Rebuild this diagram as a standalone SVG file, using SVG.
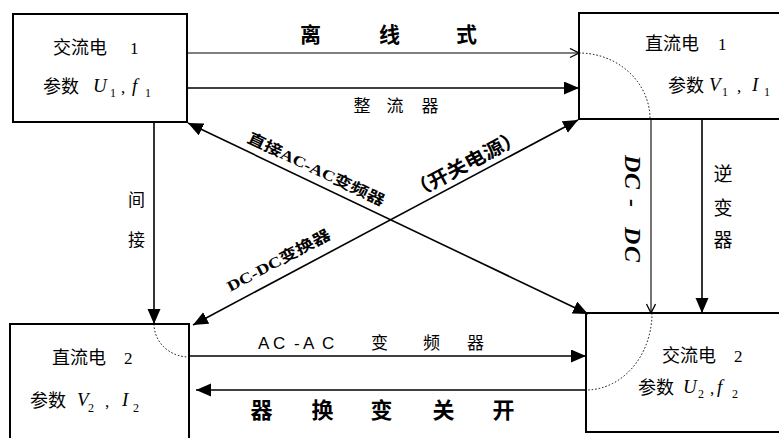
<svg xmlns="http://www.w3.org/2000/svg" width="779" height="438" viewBox="0 0 779 438">
<style>
.box{fill:#fff;stroke:#000;stroke-width:2}
.ln{stroke:#000;stroke-width:1.6;fill:none}
.thin{stroke:#000;stroke-width:1.1;fill:none}
.arc{stroke:#000;stroke-width:1;fill:none;stroke-dasharray:1.5 2}
.cjk{font-family:"Noto Sans CJK SC","Noto Sans",sans-serif;fill:#000}
.bt{font-size:18px}
.v{font-family:"Liberation Serif",serif;font-style:italic;font-size:19px}
.sub{font-family:"Liberation Serif",serif;font-size:12px}
.num{font-family:"Liberation Serif",serif;font-size:17px}
.b{font-weight:bold}
</style>
<defs>
<marker id="fa" markerUnits="userSpaceOnUse" markerWidth="16" markerHeight="14" refX="15" refY="6.5" orient="auto-start-reverse">
<path d="M0,0 L15,6.5 L0,13 z" fill="#000"/>
</marker>
<marker id="oa" markerUnits="userSpaceOnUse" markerWidth="12" markerHeight="12" refX="10" refY="5" orient="auto">
<path d="M1,0.5 L10,5 L1,9.5" fill="none" stroke="#000" stroke-width="1.3"/>
</marker>
</defs>
<rect width="779" height="438" fill="#fff"/>

<g id="ac1">
<rect class="box" x="13" y="14" width="174" height="108"/>
<text class="cjk bt" x="53" y="54">交流电</text>
<text class="num" x="130" y="54">1</text>
<text class="cjk bt" x="43" y="93">参数</text>
<text class="v" x="93" y="92">U</text><text class="sub" x="110" y="97">1</text>
<text class="num" x="121" y="93">,</text>
<text class="v" x="132" y="92">f</text><text class="sub" x="145" y="97">1</text>
</g>

<g id="dc1">
<rect class="box" x="579" y="13" width="215" height="106"/>
<text class="cjk bt" x="645" y="50">直流电</text>
<text class="num" x="718" y="50">1</text>
<text class="cjk bt" x="668" y="92">参数</text>
<text class="v" x="709" y="91">V</text><text class="sub" x="722" y="96">1</text>
<text class="num" x="737" y="92">,</text>
<text class="v" x="752" y="91">I</text><text class="sub" x="764" y="96">1</text>
</g>

<g id="dc2">
<rect class="box" x="10" y="324" width="179" height="130"/>
<text class="cjk bt" x="52" y="364">直流电</text>
<text class="num" x="124" y="364">2</text>
<text class="cjk bt" x="30" y="407">参数</text>
<text class="v" x="77" y="406">V</text><text class="sub" x="88" y="412">2</text>
<text class="num" x="105" y="407">,</text>
<text class="v" x="122" y="406">I</text><text class="sub" x="133" y="412">2</text>
</g>

<g id="ac2">
<rect class="box" x="586" y="313" width="210" height="119"/>
<text class="cjk bt" x="662" y="362">交流电</text>
<text class="num" x="734" y="362">2</text>
<text class="cjk bt" x="638" y="394">参数</text>
<text class="v" x="683" y="393">U</text><text class="sub" x="698" y="398">2</text>
<text class="num" x="710" y="394">,</text>
<text class="v" x="717" y="393">f</text><text class="sub" x="732" y="398">2</text>
</g>

<g id="connectors">
<path class="arc" d="M579,53 A71,66 0 0 1 650,119"/>
<path class="arc" d="M154,324 A35,33 0 0 0 189,357"/>
<path class="arc" d="M652,313 A66,77 0 0 1 586,390"/>

<line class="thin" x1="187" y1="53" x2="579" y2="53" marker-end="url(#oa)"/>
<line class="ln" x1="187" y1="88" x2="579" y2="88" marker-end="url(#fa)"/>
<line class="ln" x1="154" y1="122" x2="154" y2="324" marker-end="url(#fa)"/>
<line class="ln" x1="189" y1="356" x2="586" y2="356" marker-end="url(#fa)"/>
<line class="ln" x1="586" y1="390" x2="196" y2="390" marker-end="url(#fa)"/>
<line class="thin" x1="651" y1="119" x2="651" y2="313" marker-end="url(#oa)"/>
<line class="ln" x1="702" y1="119" x2="702" y2="313" marker-end="url(#fa)"/>
<line class="ln" x1="188" y1="123" x2="588" y2="314" marker-start="url(#fa)" marker-end="url(#fa)"/>
<line class="ln" x1="193" y1="325" x2="578" y2="120" marker-start="url(#fa)" marker-end="url(#fa)"/>

<text class="cjk b" font-size="21" x="300 379 456" y="42">离线式</text>
<text class="cjk" font-size="17" x="353.5 386.5 421.5" y="111.5">整流器</text>
<text class="cjk" font-size="17" x="128" y="206">间</text>
<text class="cjk" font-size="17" x="128" y="246">接</text>
<text font-family="Liberation Sans, sans-serif" font-size="17" x="258 273 294 303 322" y="349">AC-AC</text>
<text class="cjk" font-size="17" x="371 423 467" y="349">变频器</text>
<text class="cjk b" font-size="22" x="250.5 311.5 370.5 432.5 492.5" y="418">器换变关开</text>
<text class="cjk" font-size="19" x="713.5" y="181">逆</text>
<text class="cjk" font-size="19" x="713.5" y="215">变</text>
<text class="cjk" font-size="19" x="713.5" y="247">器</text>
<text font-family="Liberation Serif, serif" font-style="italic" font-weight="bold" font-size="24" x="155 173 199 227 246" y="0" transform="translate(625,0) rotate(90)">DC-DC</text>
<text class="cjk b" font-size="15" text-anchor="middle" textLength="150" lengthAdjust="spacingAndGlyphs" transform="translate(314,174) rotate(25.5)">直接<tspan font-family="Liberation Serif, serif">AC-AC</tspan>变频器</text>
<text class="cjk b" font-size="19" text-anchor="middle" textLength="124" lengthAdjust="spacingAndGlyphs" transform="translate(469,170) rotate(-28)">（开关电源）</text>
<text class="cjk b" font-size="15" text-anchor="middle" textLength="115" lengthAdjust="spacingAndGlyphs" transform="translate(281,265) rotate(-28)"><tspan font-family="Liberation Serif, serif">DC-DC</tspan>变换器</text>
</g>
</svg>
